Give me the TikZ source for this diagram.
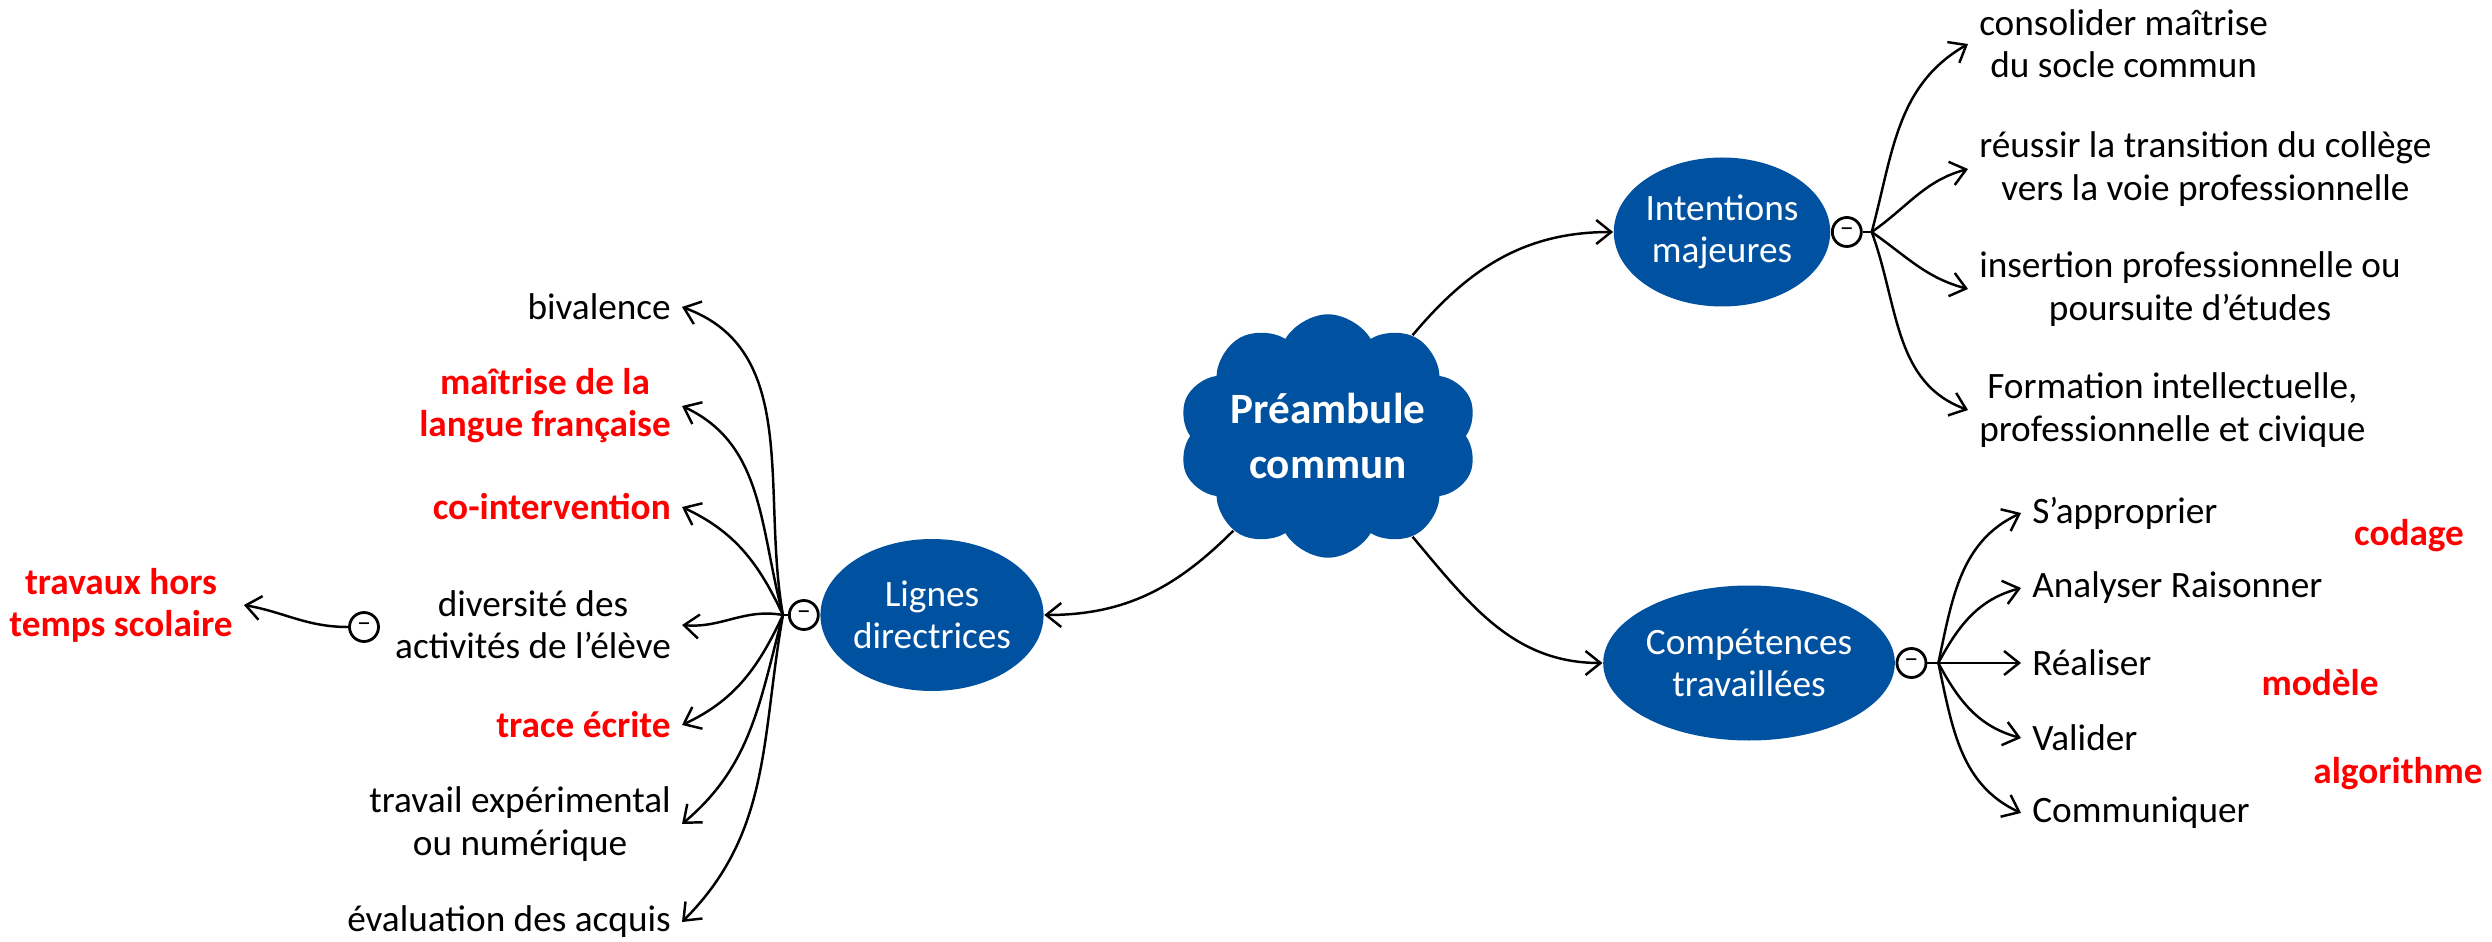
\documentclass[tikz,border=0pt]{standalone}
\usepackage{fontspec}
\setmainfont{Carlito}
\usetikzlibrary{arrows.meta, shapes.geometric, shapes.symbols}
\definecolor{mapblue}{RGB}{0,82,160}
\definecolor{mapred}{RGB}{255,0,0}

\begin{document}
\begin{tikzpicture}[every node/.style={font=\fontsize{10.6}{12}\selectfont},
    topic/.style={ellipse, fill=mapblue, text=white, align=center, inner sep=0pt},
    minus/.style={circle, draw, line width=0.8pt, fill=white, minimum size=0.29cm, inner sep=0pt, font=\fontsize{8}{8}\selectfont},
    leaf/.style={align=center, inner sep=3pt},
    hot/.style={leaf, text=mapred, font=\fontsize{10.6}{12}\selectfont\bfseries},
    arr/.style={-{Straight Barb[length=1.5mm,width=2.4mm]}, line width=0.7pt}]
    % Frame
    \useasboundingbox (0,0) rectangle (24.92,-9.42);
    % Centre cloud
    \node[cloud, cloud puffs=10, cloud puff arc=120, aspect=1.35, fill=mapblue, text=white,
        inner sep=0pt, minimum width=2.95cm, minimum height=2.05cm, align=center,
        font=\fontsize{12.3}{15.5}\selectfont\bfseries] (cloud) at (13.28,-4.36) {Préambule\\commun};
    % Main branches
    \node[topic, minimum width=2.2cm, minimum height=1.52cm] (lignes) at (9.32,-6.15) {Lignes\\directrices};
    \node[topic, minimum width=2.15cm, minimum height=1.49cm] (intent) at (17.22,-2.32) {Intentions\\majeures};
    \node[topic, minimum width=2.68cm, minimum height=1.55cm] (compet) at (17.49,-6.63) {Compétences\\travaillées};
    % Collapse buttons
    \node[minus, anchor=east] (lmin) at (lignes.west) {--};
    \node[minus, anchor=west] (imin) at (intent.east) {--};
    \node[minus, anchor=west] (cmin) at (compet.east) {--};
    \coordinate (lfan) at ([xshift=-0.05cm]lmin.west);
    \coordinate (ifan) at ([xshift=0.09cm]imin.east);
    \coordinate (cfan) at ([xshift=0.11cm]cmin.east);
    \draw[line width=0.7pt] (lmin.west) -- (lfan);
    \draw[line width=0.7pt] (imin.east) -- (ifan);
    \draw[line width=0.7pt] (cmin.east) -- (cfan);
    % Links from the centre
    \draw[arr] (cloud) to[out=225,in=0] (lignes);
    \draw[arr] (cloud) to[out=50,in=180] (intent);
    \draw[arr] (cloud) to[out=-50,in=180] (compet);

    % Intentions majeures
    \node[leaf, anchor=west] (socle) at (19.68,-0.44) {consolider maîtrise\\du socle commun};
    \node[leaf, anchor=west] (transit) at (19.68,-1.69) {réussir la transition du collège\\vers la voie professionnelle};
    \node[leaf, anchor=west] (insert) at (19.68,-2.89) {insertion professionnelle ou\\poursuite d’études};
    \node[leaf, anchor=west] (forma) at (19.68,-4.10) {Formation intellectuelle,\\professionnelle et civique};
    \foreach \n/\o/\i in {socle/75/210, transit/35/195, insert/-35/165, forma/-70/160}
    {
        \draw[arr] (ifan) to[out=\o,in=\i] (\n.west);
    }

    % Competences travaillees
    \node[leaf, anchor=west] (appro) at (20.21,-5.13) {S’approprier};
    \node[leaf, anchor=west] (analy) at (20.21,-5.88) {Analyser Raisonner};
    \node[leaf, anchor=west] (reali) at (20.21,-6.63) {Réaliser};
    \node[leaf, anchor=west] (valid) at (20.21,-7.38) {Valider};
    \node[leaf, anchor=west] (commu) at (20.21,-8.13) {Communiquer};
    \foreach \n/\o/\i in {appro/78/205, analy/62/195, reali/0/180, valid/-62/165, commu/-78/155}
    {
        \draw[arr] (cfan) to[out=\o,in=\i] (\n.west);
    }
    % Red notes
    \node[hot] (codage) at (24.09,-5.36) {codage};
    \node[hot] (modele) at (23.20,-6.83) {modèle};
    \node[hot] (algo) at (23.98,-7.74) {algorithme};

    % Lignes directrices
    \node[leaf, anchor=east] (bival) at (6.82,-3.07) {bivalence};
    \node[hot, anchor=east] (langue) at (6.82,-4.06) {maîtrise de la\\langue française};
    \node[hot, anchor=east] (cointer) at (6.82,-5.07) {co-intervention};
    \node[leaf, anchor=east] (divers) at (6.82,-6.25) {diversité des\\activités de l’élève};
    \node[hot, anchor=east] (trace) at (6.82,-7.25) {trace écrite};
    \node[leaf, anchor=east] (exper) at (6.82,-8.24) {travail expérimental\\ou numérique};
    \node[leaf, anchor=east] (evalu) at (6.82,-9.22) {évaluation des acquis};
    \foreach \n/\o/\i in {bival/100/-20, langue/105/-25, cointer/115/-25, divers/170/-5, trace/245/25, exper/255/40, evalu/260/45}
    {
        \draw[arr] (lfan) to[out=\o,in=\i] (\n.east);
    }
    % Sub-branch of diversite
    \node[minus] (dmin) at (3.64,-6.27) {--};
    \node[hot] (travaux) at (1.21,-6.05) {travaux hors\\temps scolaire};
    \draw[arr] (dmin) to[out=180,in=-10] (travaux.east);
\end{tikzpicture}
\end{document}
